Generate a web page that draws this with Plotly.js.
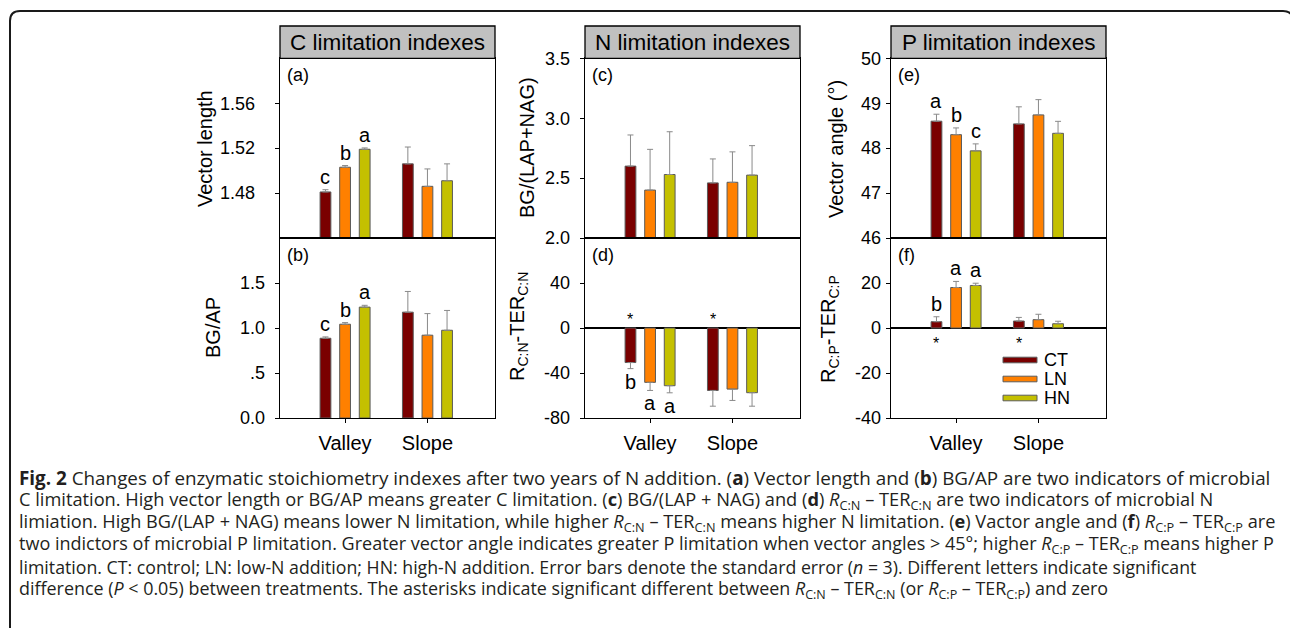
<!DOCTYPE html>
<html><head><meta charset="utf-8">
<script src="https://cdn.plot.ly/plotly-3.0.1.min.js"></script>
<style>html,body{margin:0;padding:0;background:#fff}</style>
</head><body><div id="chart" style="width:1290px;height:628px"></div>
<script>
// ---------------- DATA ----------------
const sites = ['Valley', 'Slope'];
const treatments = ['CT', 'LN', 'HN'];
const treatmentColors = ['#7a0000', '#ff8000', '#c4c000'];

// means: rows = CT, LN, HN ; columns = Valley, Slope
const vectorLength   = [[1.481, 1.506], [1.503, 1.486], [1.519, 1.491]];
const vectorLengthSE = [[0.002, 0.015], [0.0015, 0.0155], [0.0012, 0.015]];
const bgAp           = [[0.886, 1.176], [1.042, 0.920], [1.232, 0.975]];
const bgApSE         = [[0.015, 0.23], [0.018, 0.24], [0.02, 0.22]];
const bgLapNag       = [[2.60, 2.46], [2.40, 2.465], [2.53, 2.525]];
const bgLapNagSE     = [[0.26, 0.20], [0.34, 0.254], [0.357, 0.246]];
const rcnTer         = [[-30.7, -55.5], [-48.3, -54.3], [-51.3, -57.5]];
const rcnTerSE       = [[5.4, 14], [7.2, 10.1], [6.3, 12]];
const vectorAngle    = [[48.60, 48.54], [48.30, 48.74], [47.94, 48.33]];
const vectorAngleSE  = [[0.155, 0.38], [0.15, 0.34], [0.155, 0.267]];
const rcpTer         = [[2.8, 3.1], [18.0, 3.7], [18.9, 1.9]];
const rcpTerSE       = [[2.2, 1.6], [2.7, 2.4], [1.0, 1.1]];

// significance letters (rows = CT, LN, HN ; columns = Valley, Slope)
const lettersA = [['c', ''], ['b', ''], ['a', '']];
const lettersB = [['c', ''], ['b', ''], ['a', '']];
const lettersC = [['', ''], ['', ''], ['', '']];
const lettersD = [['b', ''], ['a', ''], ['a', '']];
const lettersE = [['a', ''], ['b', ''], ['c', '']];
const lettersF = [['b', ''], ['a', ''], ['a', '']];
// asterisks: significantly different from zero
const starsD = [['*', '*'], ['', ''], ['', '']];
const starsF = [['*', '*'], ['', ''], ['', '']];

// tick values / labels
const ticksA = [1.48, 1.52, 1.56];       const tickTextA = ['1.48', '1.52', '1.56'];
const ticksB = [0, 0.5, 1.0, 1.5];       const tickTextB = ['0.0', '.5', '1.0', '1.5'];
const ticksC = [2.0, 2.5, 3.0, 3.5];     const tickTextC = ['2.0', '2.5', '3.0', '3.5'];
const ticksD = [-80, -40, 0, 40];        const tickTextD = ['-80', '-40', '0', '40'];
const ticksE = [46, 47, 48, 49, 50];     const tickTextE = ['46', '47', '48', '49', '50'];
const ticksF = [-40, -20, 0, 20];        const tickTextF = ['-40', '-20', '0', '20'];

const columnTitles = ['C limitation indexes', 'N limitation indexes', 'P limitation indexes'];
const yTitles = ['Vector length', 'BG/AP', 'BG/(LAP+NAG)',
  'R<sub>C:N</sub>-TER<sub>C:N</sub>', 'Vector angle (°)', 'R<sub>C:P</sub>-TER<sub>C:P</sub>'];
const panelLabels = ['(a)', '(b)', '(c)', '(d)', '(e)', '(f)'];

const captionLines = [
  '<b>Fig. 2</b> Changes of enzymatic stoichiometry indexes after two years of N addition. (<b>a</b>) Vector length and (<b>b</b>) BG/AP are two indicators of microbial',
  'C limitation. High vector length or BG/AP means greater C limitation. (<b>c</b>) BG/(LAP + NAG) and (<b>d</b>) <i>R</i><sub>C:N</sub> – TER<sub>C:N</sub> are two indicators of microbial N',
  'limiation. High BG/(LAP + NAG) means lower N limitation, while higher <i>R</i><sub>C:N</sub> – TER<sub>C:N</sub> means higher N limitation. (<b>e</b>) Vactor angle and (<b>f</b>) <i>R</i><sub>C:P</sub> – TER<sub>C:P</sub> are',
  'two indictors of microbial P limitation. Greater vector angle indicates greater P limitation when vector angles &gt; 45°; higher <i>R</i><sub>C:P</sub> – TER<sub>C:P</sub> means higher P',
  'limitation. CT: control; LN: low-N addition; HN: high-N addition. Error bars denote the standard error (<i>n</i> = 3). Different letters indicate significant',
  'difference (<i>P</i> &lt; 0.05) between treatments. The asterisks indicate significant different between <i>R</i><sub>C:N</sub> – TER<sub>C:N</sub> (or <i>R</i><sub>C:P</sub> – TER<sub>C:P</sub>) and zero'
];

// ---------------- LAYOUT HELPERS ----------------
const W = 1290, H = 628;
const px = v => v / W;
const py = v => 1 - v / H;
const FONT = 'Arial, "Liberation Sans", sans-serif';
const colX = [[280, 495], [585, 800], [891, 1106]];
const rowY = [[58.3, 238], [238, 418]];   // top, bottom in px
const bargap = 0.286, bargroupgap = 0.45;
const slot = (1 - bargap) / treatments.length;
const CAP_X = 17, CAP_SIZE = 17;
const capRightEdges = [1269, 1212, 1274, 1272, 1195, 1107];   // layout: where each caption line ends

const panels = [
  {data: vectorLength, se: vectorLengthSE, range: [1.44, 1.60], ticks: ticksA, tt: tickTextA, letters: lettersA, stand: 16, col: 0, row: 0, yt: [205, 149]},
  {data: bgAp, se: bgApSE, range: [0, 2.0], ticks: ticksB, tt: tickTextB, letters: lettersB, stand: 6, col: 0, row: 1, yt: [213, 328]},
  {data: bgLapNag, se: bgLapNagSE, range: [2.0, 3.5], ticks: ticksC, tt: tickTextC, letters: lettersC, stand: 6, col: 1, row: 0, yt: [527, 148]},
  {data: rcnTer, se: rcnTerSE, range: [-80, 80], ticks: ticksD, tt: tickTextD, letters: lettersD, stars: starsD, stand: 6, col: 1, row: 1, yt: [518, 327], zero: true},
  {data: vectorAngle, se: vectorAngleSE, range: [46, 50], ticks: ticksE, tt: tickTextE, letters: lettersE, stand: 1, col: 2, row: 0, yt: [836, 149]},
  {data: rcpTer, se: rcpTerSE, range: [-40, 40], ticks: ticksF, tt: tickTextF, letters: lettersF, stars: starsF, stand: 1, col: 2, row: 1, yt: [829, 329], zero: true}
];

const traces = [];
const annotations = [];
const shapes = [];
const layout = {
  width: W, height: H,
  margin: {l: 0, r: 0, t: 0, b: 0},
  paper_bgcolor: '#fff', plot_bgcolor: '#fff',
  barmode: 'group', bargap: bargap, bargroupgap: bargroupgap,
  showlegend: false,
  font: {family: FONT, color: '#000'}
};

panels.forEach((p, k) => {
  const n = k + 1;
  const xs = n === 1 ? 'x' : 'x' + n;
  const ys = n === 1 ? 'y' : 'y' + n;
  const xk = n === 1 ? 'xaxis' : 'xaxis' + n;
  const yk = n === 1 ? 'yaxis' : 'yaxis' + n;
  const [xl, xr] = colX[p.col];
  const [yt, yb] = rowY[p.row];
  const bottom = p.row === 1;

  layout[xk] = {
    domain: [px(xl), px(xr)], anchor: ys, type: 'category',
    categoryorder: 'array', categoryarray: sites,
    range: [-0.79, 1.82], fixedrange: true,
    showline: true, mirror: true, linecolor: '#000', linewidth: 1.3,
    showgrid: false, zeroline: false,
    ticks: bottom ? 'outside' : '', ticklen: 4, tickcolor: '#000',
    showticklabels: bottom, ticklabelstandoff: 3,
    tickfont: {family: FONT, size: 20, color: '#000'}
  };
  layout[yk] = {
    domain: [py(yb), py(yt)], anchor: xs, range: p.range, fixedrange: true,
    showline: true, mirror: true, linecolor: '#000', linewidth: 1.3,
    showgrid: false,
    zeroline: !!p.zero, zerolinecolor: '#000', zerolinewidth: 1.3,
    tickmode: 'array', tickvals: p.ticks, ticktext: p.tt,
    ticks: 'outside', ticklen: 4, tickcolor: '#000',
    ticklabelstandoff: p.stand,
    tickfont: {family: FONT, size: 18, color: '#000'}
  };

  treatments.forEach((t, i) => {
    const vals = p.data[i];
    const se = p.se[i];
    const plus = vals.map((v, j) => v >= 0 ? se[j] : 0);
    const minus = vals.map((v, j) => v < 0 ? se[j] : 0);
    traces.push({
      type: 'bar', name: t, x: sites, y: vals, xaxis: xs, yaxis: ys,
      marker: {color: treatmentColors[i], line: {color: '#5a5a5a', width: 1}},
      error_y: {type: 'data', symmetric: false, array: plus, arrayminus: minus,
        color: '#8a8a8a', thickness: 1, width: 3},
      hoverinfo: 'skip', showlegend: false
    });
    vals.forEach((v, j) => {
      const xpos = j + (i - (treatments.length - 1) / 2) * slot;
      const letter = p.letters[i][j];
      if (letter) {
        const neg = v < 0;
        annotations.push({
          xref: xs, yref: ys, x: xpos, y: neg ? v - se[j] : v + se[j],
          text: letter, showarrow: false,
          yanchor: neg ? 'top' : 'bottom',
          font: {family: FONT, size: 20, color: '#000'}
        });
      }
      if (p.stars && p.stars[i][j]) {
        const above = vals.every(q => q < 0);
        annotations.push({
          xref: xs, yref: ys, x: xpos, y: 0,
          text: p.stars[i][j], showarrow: false,
          yanchor: above ? 'bottom' : 'top', yshift: above ? -2 : -5,
          font: {family: FONT, size: 16, color: '#000'}
        });
      }
    });
  });

  annotations.push({
    xref: 'paper', yref: 'paper', x: px(xl + 5), y: py(yt + 17),
    xanchor: 'left', yanchor: 'middle', text: panelLabels[k], showarrow: false,
    font: {family: FONT, size: 18, color: '#000'}
  });
  annotations.push({
    xref: 'paper', yref: 'paper', x: px(p.yt[0]), y: py(p.yt[1]),
    xanchor: 'center', yanchor: 'middle', textangle: -90,
    text: yTitles[k], showarrow: false,
    font: {family: FONT, size: 20, color: '#000'}
  });
});

// column title boxes
columnTitles.forEach((t, c) => {
  const [xl, xr] = colX[c];
  shapes.push({type: 'rect', xref: 'paper', yref: 'paper',
    x0: px(xl), x1: px(xr), y0: py(58.3), y1: py(26),
    fillcolor: '#c0c0c0', line: {color: '#000', width: 1.3}, layer: 'above'});
  annotations.push({xref: 'paper', yref: 'paper', x: px((xl + xr) / 2), y: py(42.5),
    xanchor: 'center', yanchor: 'middle', text: t, showarrow: false,
    font: {family: FONT, size: 22.5, color: '#000'}});
});

// legend (inside panel f)
treatments.forEach((t, i) => {
  const yc = 360 + i * 19;
  shapes.push({type: 'rect', xref: 'paper', yref: 'paper',
    x0: px(1003), x1: px(1037), y0: py(yc + 2.8), y1: py(yc - 2.8),
    fillcolor: treatmentColors[i], line: {color: '#5a5a5a', width: 1}});
  annotations.push({xref: 'paper', yref: 'paper', x: px(1042), y: py(yc),
    xanchor: 'left', yanchor: 'middle', text: t, showarrow: false,
    font: {family: FONT, size: 18, color: '#000'}});
});

// outer rounded frame
const r = 10;
shapes.push({type: 'path', xref: 'paper', yref: 'paper',
  path: `M ${px(10)},${py(660)} L ${px(10)},${py(11 + r)} Q ${px(10)},${py(11)} ${px(10 + r)},${py(11)} L ${px(1283)},${py(11)} Q ${px(1293)},${py(11)} ${px(1293)},${py(11 + r)} L ${px(1293)},${py(660)}`,
  line: {color: '#1a1a1a', width: 2}});

// caption
const capStart = annotations.length;
captionLines.forEach((line, i) => {
  annotations.push({xref: 'paper', yref: 'paper', x: px(CAP_X), y: py(478 + i * 22.2),
    xanchor: 'left', yanchor: 'middle', align: 'left', text: line, showarrow: false,
    font: {family: '"Open Sans", sans-serif', size: CAP_SIZE, color: '#231f20'}});
});

layout.annotations = annotations;
layout.shapes = shapes;

Plotly.newPlot('chart', traces, layout, {staticPlot: true, displayModeBar: false}).then(gd => {
  // fit every caption line to the width it occupies in the figure
  const upd = {};
  gd.querySelectorAll('g.annotation').forEach(node => {
    const idx = +node.getAttribute('data-index');
    if (idx >= capStart) {
      const t = node.querySelector('text.annotation-text');
      const w = t ? t.getBBox().width : 0;
      if (w > 0) {
        const target = capRightEdges[idx - capStart] - CAP_X;
        upd['annotations[' + idx + '].font.size'] = +(CAP_SIZE * target / w).toFixed(2);
      }
    }
  });
  return Plotly.relayout(gd, upd);
});
</script>
</body></html>
